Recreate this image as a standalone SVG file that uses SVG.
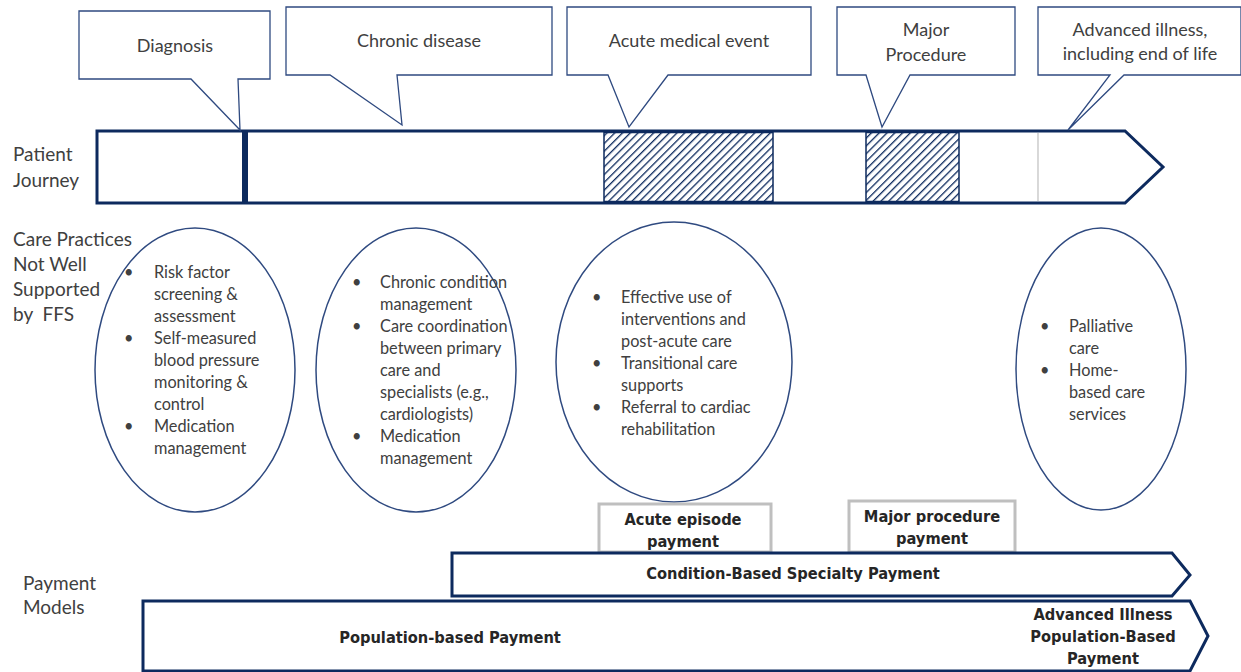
<svg xmlns="http://www.w3.org/2000/svg" width="1241" height="672" viewBox="0 0 1241 672">
<style>
.call{fill:#fff;stroke:#2f4a80;stroke-width:1.3}
.ct{font-family:Lato,"Liberation Sans",sans-serif;font-size:18px;fill:#404040;text-anchor:middle}
.lab{font-family:Lato,"Liberation Sans",sans-serif;font-size:19px;fill:#404040;white-space:pre}
.ell{fill:#fff;stroke:#2f4a80;stroke-width:1.5}
.et{font-family:Lato,"Liberation Sans",sans-serif;font-size:16.3px;fill:#404040}
.bar{fill:#fff;stroke:#0d2a5e;stroke-width:3}
.pb{fill:#fff;stroke:#bfbfbf;stroke-width:3}
.bt{font-family:"DejaVu Sans Condensed","DejaVu Sans",sans-serif;font-weight:bold;font-size:16.3px;fill:#262626;text-anchor:middle}
</style>
<defs>
<pattern id="hatch" width="5.5" height="5.5" patternUnits="userSpaceOnUse" patternTransform="rotate(45)">
<rect width="5.5" height="5.5" fill="#fff"/>
<line x1="0" y1="0" x2="0" y2="5.5" stroke="#0d2a5e" stroke-width="2.6"/>
</pattern>
</defs>

<g id="journey">
<path class="bar" d="M97,131 H1125 L1163,167 L1125,203 H97 Z"/>
<rect x="604" y="132.5" width="169" height="69" fill="url(#hatch)" stroke="#0d2a5e" stroke-width="1.5"/>
<rect x="866" y="132.5" width="93" height="69" fill="url(#hatch)" stroke="#0d2a5e" stroke-width="1.5"/>
<rect x="242" y="131" width="6" height="72" fill="#0d2a5e"/>
<line x1="1038" y1="133" x2="1038" y2="201" stroke="#bfbfbf" stroke-width="1.2"/>
</g>

<g id="callout-diagnosis">
<path class="call" d="M79,11 H270 V79 H238 L240,130 L191,79 H79 Z"/>
<text class="ct" x="175" y="52">Diagnosis</text>
</g>
<g id="callout-chronic">
<path class="call" d="M286,7 H552 V75 H397 L402,125 L330,75 H286 Z"/>
<text class="ct" x="419" y="47">Chronic disease</text>
</g>
<g id="callout-acute">
<path class="call" d="M567,7 H811 V75 H668 L629,127 L608,75 H567 Z"/>
<text class="ct" x="689" y="47">Acute medical event</text>
</g>
<g id="callout-major">
<path class="call" d="M837,7 H1015 V75 H910 L882,127 L866,75 H837 Z"/>
<text class="ct" x="926" y="36">Major</text>
<text class="ct" x="926" y="61">Procedure</text>
</g>
<g id="callout-advanced">
<path class="call" d="M1038,7 H1241 V75 H1124 L1068,130 L1110,75 H1038 Z"/>
<text class="ct" x="1140" y="36">Advanced illness,</text>
<text class="ct" x="1140" y="60">including end of life</text>
</g>

<g id="labels">
<text class="lab" x="13" y="161">Patient</text>
<text class="lab" x="13" y="187">Journey</text>
<text class="lab" x="13" y="246">Care Practices</text>
<text class="lab" x="13" y="271">Not Well</text>
<text class="lab" x="13" y="296">Supported</text>
<text class="lab" x="13" y="321" xml:space="preserve">by  FFS</text>
<text class="lab" x="23" y="590">Payment</text>
<text class="lab" x="23" y="614">Models</text>
</g>

<g id="care-diagnosis">
<ellipse class="ell" cx="195" cy="370" rx="100" ry="142"/>
<g class="et">
<text x="124" y="278">•</text><text x="154" y="278">Risk factor</text>
<text x="154" y="300">screening &amp;</text>
<text x="154" y="322">assessment</text>
<text x="124" y="344">•</text><text x="154" y="344">Self-measured</text>
<text x="154" y="366">blood pressure</text>
<text x="154" y="388">monitoring &amp;</text>
<text x="154" y="410">control</text>
<text x="124" y="432">•</text><text x="154" y="432">Medication</text>
<text x="154" y="454">management</text>
</g>
</g>
<g id="care-chronic">
<ellipse class="ell" cx="416" cy="370" rx="100" ry="142"/>
<g class="et">
<text x="352" y="288">•</text><text x="380" y="288">Chronic condition</text>
<text x="380" y="310">management</text>
<text x="352" y="332">•</text><text x="380" y="332">Care coordination</text>
<text x="380" y="354">between primary</text>
<text x="380" y="376">care and</text>
<text x="380" y="398">specialists (e.g.,</text>
<text x="380" y="420">cardiologists)</text>
<text x="352" y="442">•</text><text x="380" y="442">Medication</text>
<text x="380" y="464">management</text>
</g>
</g>
<g id="care-acute">
<ellipse class="ell" cx="674" cy="362" rx="118" ry="140"/>
<g class="et">
<text x="592" y="303">•</text><text x="621" y="303">Effective use of</text>
<text x="621" y="325">interventions and</text>
<text x="621" y="347">post-acute care</text>
<text x="592" y="369">•</text><text x="621" y="369">Transitional care</text>
<text x="621" y="391">supports</text>
<text x="592" y="413">•</text><text x="621" y="413">Referral to cardiac</text>
<text x="621" y="435">rehabilitation</text>
</g>
</g>
<g id="care-advanced">
<ellipse class="ell" cx="1101" cy="369" rx="85" ry="141"/>
<g class="et">
<text x="1040" y="332">•</text><text x="1069" y="332">Palliative</text>
<text x="1069" y="354">care</text>
<text x="1040" y="376">•</text><text x="1069" y="376">Home-</text>
<text x="1069" y="398">based care</text>
<text x="1069" y="420">services</text>
</g>
</g>

<g id="payment-acute">
<rect class="pb" x="599" y="504" width="172" height="48"/>
<text class="bt" x="683" y="525">Acute episode</text>
<text class="bt" x="683" y="547">payment</text>
</g>
<g id="payment-major">
<rect class="pb" x="849" y="501" width="166" height="51"/>
<text class="bt" x="932" y="522">Major procedure</text>
<text class="bt" x="932" y="544">payment</text>
</g>
<g id="payment-condition">
<path class="bar" d="M452,553 H1172 L1190,575 L1172,596 H452 Z"/>
<text class="bt" x="793" y="579">Condition-Based Specialty Payment</text>
</g>
<g id="payment-population">
<path class="bar" d="M143,674 V601 H1190 L1208,636 L1190,671 H143"/>
<text class="bt" x="450" y="643">Population-based Payment</text>
<text class="bt" x="1103" y="620">Advanced Illness</text>
<text class="bt" x="1103" y="642">Population-Based</text>
<text class="bt" x="1103" y="664">Payment</text>
</g>
<g id="connectors"></g>
</svg>
